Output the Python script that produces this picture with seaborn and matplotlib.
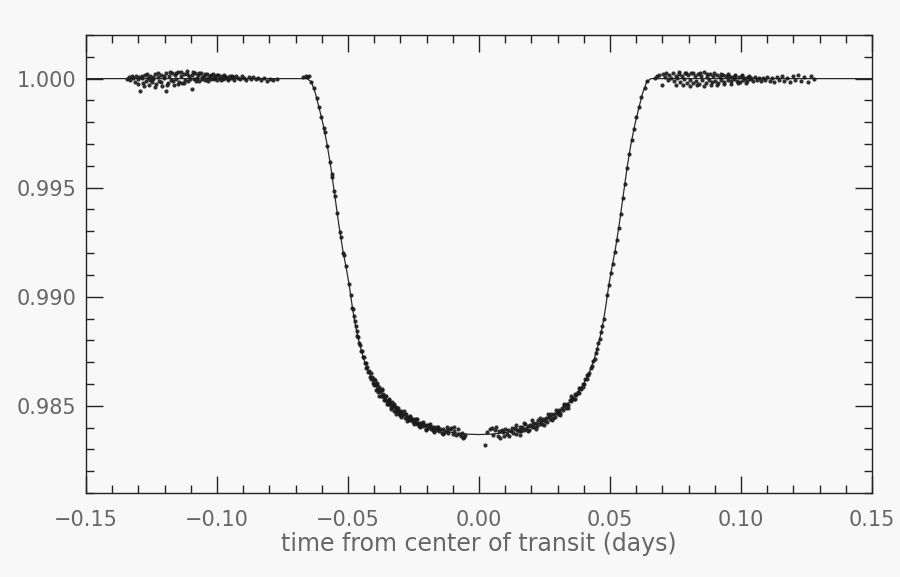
import numpy as np
import pandas as pd
import matplotlib
matplotlib.use("Agg")
import matplotlib.pyplot as plt
from matplotlib.ticker import MultipleLocator, FuncFormatter
import seaborn as sns

# ---- photometry: (time from mid-transit [days], relative flux) ----
pre_transit = [
    (-0.1342, 0.99998), (-0.1336, 1.00006), (-0.1331, 0.99992), (-0.1326, 1.00010),
    (-0.1320, 1.00002), (-0.1314, 0.99985), (-0.1309, 1.00014), (-0.1303, 0.99996),
    (-0.1298, 1.00008), (-0.1292, 0.99945), (-0.1287, 1.00003), (-0.1281, 0.99978),
    (-0.1276, 1.00016), (-0.1270, 0.99990), (-0.1265, 1.00005), (-0.1259, 0.99970),
    (-0.1254, 1.00012), (-0.1248, 0.99983), (-0.1243, 0.99996), (-0.1237, 1.00021),
    (-0.1232, 0.99975), (-0.1226, 1.00007), (-0.1221, 0.99988), (-0.1215, 1.00018),
    (-0.1210, 0.99965), (-0.1204, 1.00002), (-0.1196, 0.99945), (-0.1193, 1.00025),
    (-0.1188, 0.99980), (-0.1182, 1.00011), (-0.1177, 0.99992), (-0.1171, 1.00028),
    (-0.1166, 0.99972), (-0.1160, 1.00015), (-0.1155, 0.99998), (-0.1149, 1.00030),
    (-0.1144, 0.99986), (-0.1138, 1.00010), (-0.1133, 0.99978), (-0.1127, 1.00022),
    (-0.1122, 0.99994), (-0.1116, 1.00035), (-0.1111, 0.99990), (-0.1105, 1.00013),
    (-0.1095, 0.99954), (-0.1094, 1.00018), (-0.1089, 0.99996), (-0.1083, 1.00026),
    (-0.1078, 1.00004), (-0.1072, 1.00015), (-0.1067, 0.99991), (-0.1061, 1.00024),
    (-0.1056, 1.00006), (-0.1050, 1.00011), (-0.1045, 0.99993), (-0.1039, 1.00020),
    (-0.1034, 1.00001), (-0.1028, 1.00014), (-0.1023, 0.99997), (-0.1017, 1.00019),
    (-0.1012, 1.00005), (-0.1006, 1.00012), (-0.1001, 0.99994), (-0.0995, 1.00017),
    (-0.0990, 1.00003), (-0.0984, 1.00010), (-0.0979, 0.99996), (-0.0973, 1.00015),
    (-0.0968, 1.00002), (-0.0962, 1.00008), (-0.0957, 0.99993), (-0.0951, 1.00013),
    (-0.0946, 1.00001), (-0.0940, 1.00009), (-0.0934, 0.99995), (-0.0928, 1.00012),
    (-0.0921, 1.00003), (-0.0913, 0.99997), (-0.0905, 1.00010), (-0.0896, 1.00004),
    (-0.0888, 0.99994), (-0.0879, 1.00006), (-0.0870, 0.99999), (-0.0861, 1.00008),
    (-0.0852, 0.99996), (-0.0842, 1.00003), (-0.0832, 0.99993), (-0.0822, 1.00001),
    (-0.0810, 0.99990), (-0.0798, 0.99998), (-0.0785, 0.99993), (-0.0772, 0.99996),
    (-0.1300, 0.99975), (-0.1288, 1.00012), (-0.1279, 0.99968), (-0.1268, 1.00020),
    (-0.1257, 0.99992), (-0.1246, 1.00008), (-0.1235, 0.99960), (-0.1224, 1.00027),
    (-0.1213, 0.99985), (-0.1202, 1.00014), (-0.1191, 0.99970), (-0.1180, 1.00032),
    (-0.1169, 0.99988), (-0.1158, 1.00024), (-0.1147, 0.99975), (-0.1136, 1.00030),
    (-0.1125, 0.99982), (-0.1113, 1.00020), (-0.1102, 0.99998), (-0.1091, 1.00030),
    (-0.1080, 0.99990), (-0.1069, 1.00025), (-0.1057, 1.00000), (-0.1046, 1.00021),
    (-0.1035, 0.99990), (-0.1024, 1.00018), (-0.1012, 0.99996), (-0.0999, 1.00016),
    (-0.0986, 0.99992), (-0.0972, 1.00012), (-0.0958, 0.99998), (-0.0943, 1.00010),
]

ingress = [
    (-0.0670, 1.00008), (-0.0662, 1.00012), (-0.0656, 1.00006), (-0.0648, 1.00010),
    (-0.0641, 0.99986), (-0.0631, 0.99955), (-0.0620, 0.99912), (-0.0611, 0.99870),
    (-0.0602, 0.99825), (-0.0592, 0.99772), (-0.0589, 0.99754), (-0.0579, 0.99693),
    (-0.0569, 0.99619), (-0.0562, 0.99564), (-0.0560, 0.99547), (-0.0553, 0.99486),
    (-0.0550, 0.99460), (-0.0541, 0.99382), (-0.0531, 0.99299), (-0.0528, 0.99276),
    (-0.0518, 0.99202), (-0.0516, 0.99190), (-0.0508, 0.99139), (-0.0496, 0.99057),
    (-0.0490, 0.99008), (-0.0483, 0.98950),
]

in_transit_first_half = [
    (-0.0482, 0.98945), (-0.0478, 0.98910), (-0.0474, 0.98888), (-0.0471, 0.98864),
    (-0.0467, 0.98845), (-0.0464, 0.98821), (-0.0461, 0.98815), (-0.0457, 0.98787),
    (-0.0454, 0.98780), (-0.0450, 0.98752), (-0.0447, 0.98752), (-0.0443, 0.98724),
    (-0.0440, 0.98723), (-0.0436, 0.98694), (-0.0433, 0.98697), (-0.0430, 0.98673),
    (-0.0426, 0.98678), (-0.0423, 0.98655), (-0.0420, 0.98658), (-0.0417, 0.98634),
    (-0.0414, 0.98648), (-0.0411, 0.98625), (-0.0408, 0.98630), (-0.0405, 0.98603),
    (-0.0402, 0.98621), (-0.0399, 0.98595), (-0.0396, 0.98601), (-0.0393, 0.98574),
    (-0.0390, 0.98596), (-0.0387, 0.98578), (-0.0384, 0.98562), (-0.0381, 0.98584),
    (-0.0378, 0.98569), (-0.0375, 0.98546), (-0.0372, 0.98573), (-0.0369, 0.98545),
    (-0.0366, 0.98555), (-0.0363, 0.98525), (-0.0360, 0.98546), (-0.0357, 0.98525),
    (-0.0354, 0.98543), (-0.0351, 0.98522), (-0.0348, 0.98506), (-0.0345, 0.98527),
    (-0.0342, 0.98506), (-0.0339, 0.98514), (-0.0336, 0.98494), (-0.0333, 0.98515),
    (-0.0330, 0.98494), (-0.0327, 0.98502), (-0.0324, 0.98475), (-0.0321, 0.98494),
    (-0.0318, 0.98475), (-0.0315, 0.98493), (-0.0312, 0.98474), (-0.0309, 0.98481),
    (-0.0306, 0.98460), (-0.0303, 0.98473), (-0.0300, 0.98459), (-0.0296, 0.98475),
    (-0.0292, 0.98456), (-0.0288, 0.98464), (-0.0284, 0.98442), (-0.0280, 0.98461),
    (-0.0276, 0.98445), (-0.0272, 0.98450), (-0.0268, 0.98434), (-0.0264, 0.98449),
    (-0.0260, 0.98433), (-0.0256, 0.98441), (-0.0252, 0.98425), (-0.0248, 0.98438),
    (-0.0244, 0.98426), (-0.0240, 0.98438), (-0.0236, 0.98417), (-0.0232, 0.98423),
    (-0.0228, 0.98408), (-0.0224, 0.98423), (-0.0220, 0.98412), (-0.0216, 0.98423),
    (-0.0212, 0.98406), (-0.0208, 0.98414), (-0.0204, 0.98395), (-0.0200, 0.98412),
    (-0.0195, 0.98399), (-0.0190, 0.98410), (-0.0185, 0.98393), (-0.0180, 0.98402),
    (-0.0175, 0.98388), (-0.0170, 0.98401), (-0.0165, 0.98390), (-0.0160, 0.98402),
    (-0.0154, 0.98384), (-0.0148, 0.98392), (-0.0142, 0.98374), (-0.0136, 0.98392),
    (-0.0130, 0.98380), (-0.0124, 0.98391), (-0.0118, 0.98373), (-0.0112, 0.98394),
    (-0.0106, 0.98398), (-0.0100, 0.98372), (-0.0094, 0.98382), (-0.0088, 0.98368),
    (-0.0082, 0.98393), (-0.0076, 0.98371), (-0.0070, 0.98363), (-0.0064, 0.98376),
    (-0.0058, 0.98357), (-0.0052, 0.98364),
    (-0.0398, 0.98619), (-0.0389, 0.98603), (-0.0380, 0.98546), (-0.0371, 0.98578),
    (-0.0362, 0.98541), (-0.0353, 0.98508), (-0.0344, 0.98532), (-0.0335, 0.98483),
    (-0.0326, 0.98509), (-0.0317, 0.98462), (-0.0308, 0.98488), (-0.0298, 0.98447),
    (-0.0286, 0.98474), (-0.0274, 0.98429), (-0.0262, 0.98454), (-0.0250, 0.98417),
    (-0.0238, 0.98440), (-0.0226, 0.98401), (-0.0214, 0.98427), (-0.0202, 0.98390),
    (-0.0188, 0.98418), (-0.0172, 0.98381), (-0.0157, 0.98403), (-0.0138, 0.98369),
    (-0.0121, 0.98403), (-0.0097, 0.98401), (-0.0062, 0.98352),
]

in_transit_second_half = [
    (0.0021, 0.98318), (0.0030, 0.98379), (0.0042, 0.98394), (0.0048, 0.98398),
    (0.0055, 0.98366), (0.0060, 0.98387), (0.0066, 0.98404), (0.0071, 0.98361),
    (0.0076, 0.98382), (0.0081, 0.98353), (0.0086, 0.98389), (0.0091, 0.98378),
    (0.0096, 0.98361), (0.0101, 0.98395), (0.0106, 0.98372), (0.0111, 0.98389),
    (0.0116, 0.98360), (0.0121, 0.98386), (0.0126, 0.98398), (0.0131, 0.98375),
    (0.0136, 0.98397), (0.0141, 0.98371), (0.0146, 0.98391), (0.0151, 0.98385),
    (0.0156, 0.98404), (0.0161, 0.98382), (0.0166, 0.98402), (0.0171, 0.98389),
    (0.0176, 0.98415), (0.0181, 0.98394), (0.0186, 0.98406), (0.0191, 0.98389),
    (0.0196, 0.98414), (0.0201, 0.98403), (0.0206, 0.98422), (0.0211, 0.98403),
    (0.0216, 0.98419), (0.0221, 0.98405), (0.0226, 0.98434), (0.0231, 0.98418),
    (0.0236, 0.98432), (0.0241, 0.98417), (0.0246, 0.98441), (0.0251, 0.98428),
    (0.0256, 0.98443), (0.0261, 0.98427), (0.0266, 0.98451), (0.0271, 0.98441),
    (0.0276, 0.98460), (0.0281, 0.98444), (0.0286, 0.98462), (0.0291, 0.98450),
    (0.0296, 0.98472), (0.0301, 0.98462), (0.0306, 0.98481), (0.0311, 0.98468),
    (0.0316, 0.98491), (0.0321, 0.98482), (0.0326, 0.98504), (0.0331, 0.98490),
    (0.0336, 0.98510), (0.0341, 0.98504), (0.0346, 0.98526), (0.0351, 0.98520),
    (0.0356, 0.98537), (0.0361, 0.98531), (0.0366, 0.98553), (0.0371, 0.98548),
    (0.0376, 0.98562), (0.0381, 0.98560), (0.0386, 0.98581), (0.0391, 0.98577),
    (0.0396, 0.98598), (0.0401, 0.98601), (0.0406, 0.98622), (0.0411, 0.98624),
    (0.0416, 0.98643), (0.0421, 0.98651), (0.0426, 0.98671), (0.0431, 0.98683),
    (0.0436, 0.98705), (0.0441, 0.98716), (0.0446, 0.98743), (0.0451, 0.98760),
    (0.0456, 0.98787), (0.0461, 0.98808), (0.0466, 0.98837), (0.0471, 0.98864),
    (0.0476, 0.98900),
    (0.0143, 0.98411), (0.0158, 0.98368), (0.0173, 0.98423), (0.0188, 0.98383),
    (0.0203, 0.98433), (0.0218, 0.98395), (0.0233, 0.98444), (0.0248, 0.98411),
    (0.0263, 0.98461), (0.0278, 0.98433), (0.0293, 0.98480), (0.0308, 0.98456),
    (0.0323, 0.98506), (0.0338, 0.98492), (0.0353, 0.98543), (0.0368, 0.98533),
    (0.0383, 0.98583), (0.0398, 0.98588), (0.0413, 0.98643),
]

egress = [
    (0.0490, 0.99010), (0.0496, 0.99055), (0.0503, 0.99108), (0.0510, 0.99150),
    (0.0518, 0.99204), (0.0526, 0.99259), (0.0533, 0.99317), (0.0541, 0.99380),
    (0.0549, 0.99453), (0.0557, 0.99519), (0.0565, 0.99592), (0.0574, 0.99654),
    (0.0583, 0.99720), (0.0592, 0.99770), (0.0601, 0.99822), (0.0611, 0.99868),
    (0.0620, 0.99914), (0.0632, 0.99956), (0.0640, 0.99987),
]

post_transit = [
    (0.0672, 1.00004), (0.0680, 1.00010), (0.0688, 1.00018), (0.0697, 0.99972),
    (0.0703, 1.00022), (0.0709, 1.00008), (0.0715, 1.00026), (0.0721, 0.99995),
    (0.0727, 1.00018), (0.0733, 1.00004), (0.0739, 1.00025), (0.0745, 0.99990),
    (0.0751, 1.00014), (0.0757, 1.00001), (0.0763, 1.00020), (0.0769, 0.99985),
    (0.0775, 1.00012), (0.0781, 0.99996), (0.0787, 1.00024), (0.0793, 0.99982),
    (0.0799, 1.00016), (0.0805, 0.99993), (0.0811, 1.00028), (0.0817, 0.99978),
    (0.0823, 1.00010), (0.0829, 0.99988), (0.0835, 1.00022), (0.0841, 0.99975),
    (0.0847, 1.00014), (0.0853, 0.99992), (0.0859, 1.00030), (0.0865, 0.99980),
    (0.0871, 1.00008), (0.0877, 0.99995), (0.0883, 1.00020), (0.0889, 0.99984),
    (0.0895, 1.00012), (0.0901, 0.99990), (0.0907, 1.00018), (0.0913, 0.99978),
    (0.0919, 1.00006), (0.0925, 0.99994), (0.0931, 1.00016), (0.0937, 0.99986),
    (0.0943, 1.00010), (0.0949, 0.99992), (0.0955, 1.00014), (0.0961, 0.99988),
    (0.0967, 1.00008), (0.0973, 0.99996), (0.0979, 1.00012), (0.0985, 0.99990),
    (0.0991, 1.00006), (0.0997, 0.99984), (0.1003, 1.00010), (0.1009, 0.99994),
    (0.1015, 1.00004), (0.1021, 0.99988), (0.1027, 1.00008), (0.1033, 0.99996),
    (0.1039, 1.00002), (0.1045, 0.99990), (0.1052, 1.00006), (0.1060, 0.99994),
    (0.1068, 1.00003), (0.1076, 0.99988), (0.1084, 1.00001), (0.1092, 0.99993),
    (0.1100, 1.00008), (0.1109, 0.99990), (0.1118, 1.00004), (0.1127, 0.99986),
    (0.1136, 1.00006), (0.1145, 0.99992), (0.1155, 1.00010), (0.1165, 0.99988),
    (0.1175, 1.00003), (0.1186, 0.99984), (0.1197, 1.00012), (0.1208, 0.99994),
    (0.1219, 1.00015), (0.1230, 0.99990), (0.1242, 1.00006), (0.1254, 0.99985),
    (0.1266, 1.00012), (0.1278, 0.99996),
    (0.0752, 0.99972), (0.0765, 1.00030), (0.0778, 0.99970), (0.0791, 1.00026),
    (0.0804, 0.99968), (0.0818, 1.00024), (0.0831, 0.99972), (0.0844, 1.00026),
    (0.0857, 0.99968), (0.0870, 1.00022), (0.0884, 0.99970), (0.0897, 1.00024),
    (0.0910, 0.99972), (0.0923, 1.00020), (0.0936, 0.99974), (0.0950, 1.00022),
    (0.0963, 0.99976), (0.0976, 1.00018), (0.0990, 0.99978), (0.1004, 1.00016),
    (0.1018, 0.99980), (0.1032, 1.00014),
]

# ---- limb-darkened transit model ----
model_curve = [
    (-0.1500, 1.00000), (-0.0656, 1.00000), (-0.0640, 0.99985), (-0.0625, 0.99935),
    (-0.0610, 0.99865), (-0.0595, 0.99790), (-0.0580, 0.99700), (-0.0565, 0.99590),
    (-0.0550, 0.99460), (-0.0535, 0.99330), (-0.0520, 0.99215), (-0.0505, 0.99120),
    (-0.0495, 0.99050), (-0.0485, 0.98965), (-0.0475, 0.98890), (-0.0465, 0.98830),
    (-0.0455, 0.98780), (-0.0440, 0.98715), (-0.0425, 0.98665), (-0.0410, 0.98625),
    (-0.0390, 0.98580), (-0.0370, 0.98550), (-0.0340, 0.98510), (-0.0310, 0.98475),
    (-0.0270, 0.98445), (-0.0230, 0.98420), (-0.0190, 0.98402), (-0.0150, 0.98388),
    (-0.0100, 0.98377), (-0.0050, 0.98370), (0.0000, 0.98368),
    (0.0050, 0.98370), (0.0100, 0.98377), (0.0150, 0.98388), (0.0190, 0.98402),
    (0.0230, 0.98420), (0.0270, 0.98445), (0.0310, 0.98475), (0.0340, 0.98510),
    (0.0370, 0.98550), (0.0390, 0.98580), (0.0410, 0.98625), (0.0425, 0.98665),
    (0.0440, 0.98715), (0.0455, 0.98780), (0.0465, 0.98830), (0.0475, 0.98890),
    (0.0485, 0.98965), (0.0495, 0.99050), (0.0505, 0.99120), (0.0520, 0.99215),
    (0.0535, 0.99330), (0.0550, 0.99460), (0.0565, 0.99590), (0.0580, 0.99700),
    (0.0595, 0.99790), (0.0610, 0.99865), (0.0625, 0.99935), (0.0640, 0.99985),
    (0.0656, 1.00000), (0.1500, 1.00000),
]

x_ticks = [-0.15, -0.10, -0.05, 0.00, 0.05, 0.10, 0.15]
y_ticks = [0.985, 0.990, 0.995, 1.000]
x_label = "time from center of transit (days)"

obs = pd.DataFrame(
    pre_transit + ingress + in_transit_first_half + in_transit_second_half
    + egress + post_transit,
    columns=["time", "flux"],
)
model = pd.DataFrame(model_curve, columns=["time", "flux"])

sns.set_style("ticks")
plt.rcParams["font.family"] = ["DejaVu Sans"]

bg = "#f8f8f8"
ink = "#1a1a1a"
label_col = "#666666"

fig = plt.figure(figsize=(9.0, 5.77), dpi=100, facecolor=bg)
ax = fig.add_axes([86 / 900, 1 - 493 / 577, 786 / 900, 458 / 577])
ax.set_facecolor(bg)

sns.lineplot(data=model, x="time", y="flux", ax=ax, color="#2a2a2a",
             linewidth=0.9, estimator=None, sort=False, zorder=2)
sns.scatterplot(data=obs, x="time", y="flux", ax=ax, color=ink, s=9,
                marker="o", linewidth=0, alpha=0.9, zorder=3)

ax.set_xlim(-0.15, 0.15)
ax.set_ylim(0.981, 1.002)
ax.set_xticks(x_ticks)
ax.set_yticks(y_ticks)
ax.xaxis.set_minor_locator(MultipleLocator(0.01))
ax.yaxis.set_minor_locator(MultipleLocator(0.001))


def signed(fmt):
    def _fmt(v, _pos):
        if abs(v) < 1e-12:
            v = 0.0
        return (fmt % v).replace("-", "\u2212")
    return FuncFormatter(_fmt)


ax.xaxis.set_major_formatter(signed("%.2f"))
ax.yaxis.set_major_formatter(signed("%.3f"))

for side in ["top", "bottom", "left", "right"]:
    ax.spines[side].set_visible(True)
    ax.spines[side].set_color("#222222")
    ax.spines[side].set_linewidth(1.0)

ax.tick_params(which="both", direction="in", top=True, right=True,
               color="#222222", width=1.0)
ax.tick_params(which="major", length=12)
ax.tick_params(which="minor", length=6)
ax.tick_params(axis="x", which="major", pad=12, labelsize=15,
               labelcolor=label_col)
ax.tick_params(axis="y", which="major", pad=7, labelsize=15,
               labelcolor=label_col)

ax.set_xlabel(x_label, fontsize=17, color=label_col, labelpad=2)
ax.set_ylabel("")

fig.savefig("out.png", dpi=100, facecolor=bg)
